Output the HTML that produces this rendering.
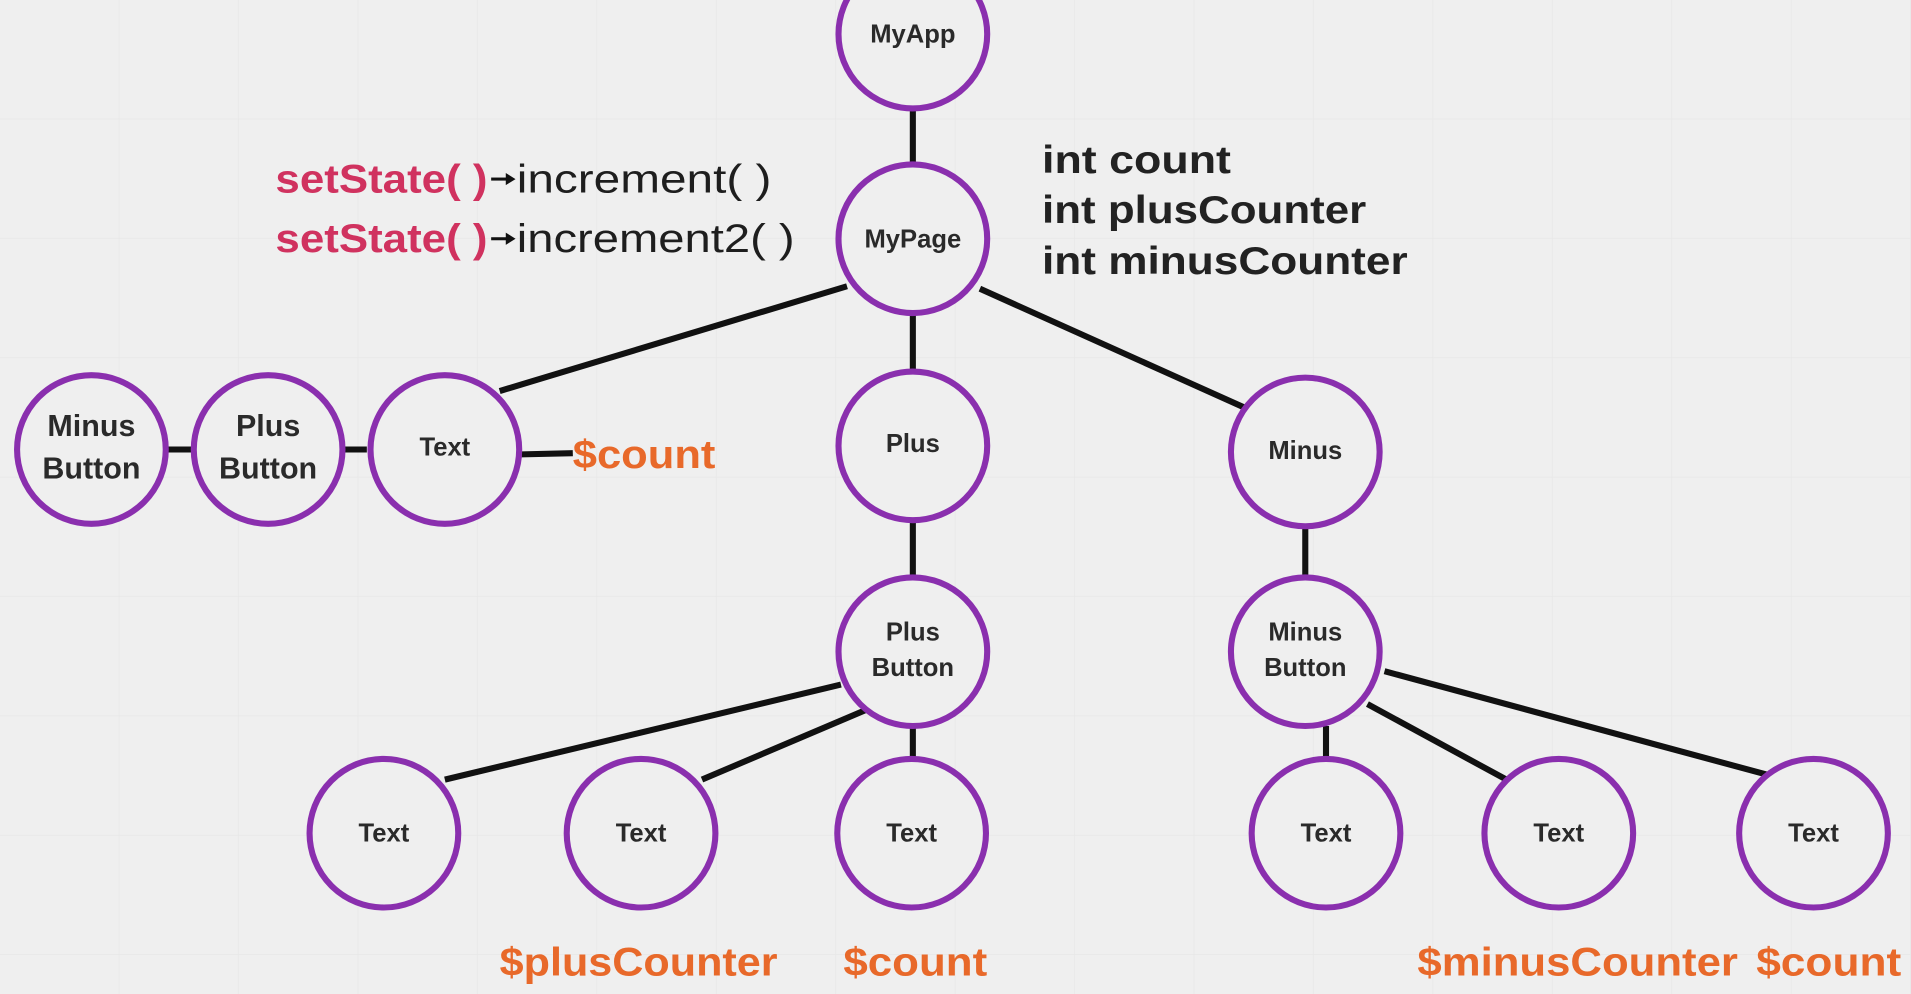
<!DOCTYPE html>
<html><head><meta charset="utf-8"><style>
html,body{margin:0;padding:0;background:#efefef;}
svg{display:block}
text{font-family:"Liberation Sans",sans-serif;}
</style></head><body>
<svg width="1911" height="994" viewBox="0 0 1568 816" preserveAspectRatio="none" xmlns="http://www.w3.org/2000/svg">
<defs><pattern id="g" width="98" height="98" patternUnits="userSpaceOnUse"><path d="M98 0V98M0 98H98" stroke="#e7e7e7" stroke-width="1.2" fill="none"/></pattern></defs>
<rect width="1568" height="816" fill="#efefef"/>
<rect width="1568" height="816" fill="url(#g)"/>
<g stroke="#111" stroke-width="5" fill="none">
<line x1="749" y1="90" x2="749" y2="134"/>
<line x1="695" y1="235" x2="410" y2="321"/>
<line x1="804" y1="237" x2="1022" y2="335"/>
<line x1="749" y1="258" x2="749" y2="305"/>
<line x1="137" y1="369" x2="157" y2="369"/>
<line x1="283" y1="369" x2="301" y2="369"/>
<line x1="428" y1="373" x2="470" y2="372"/>
<line x1="749" y1="428" x2="749" y2="473"/>
<line x1="690" y1="562" x2="365" y2="640"/>
<line x1="710" y1="583" x2="576" y2="640"/>
<line x1="749" y1="597" x2="749" y2="622"/>
<line x1="1071" y1="433" x2="1071" y2="472"/>
<line x1="1088" y1="596" x2="1088" y2="622"/>
<line x1="1122" y1="578" x2="1236" y2="640"/>
<line x1="1136" y1="551" x2="1450" y2="636"/>
</g>
<g stroke="#8a2fae" stroke-width="5" fill="#efefef">
<circle cx="749" cy="28" r="61"/>
<circle cx="749" cy="196" r="61"/>
<circle cx="75" cy="369" r="61"/>
<circle cx="220" cy="369" r="61"/>
<circle cx="365" cy="369" r="61"/>
<circle cx="749" cy="366" r="61"/>
<circle cx="1071" cy="371" r="61"/>
<circle cx="749" cy="535" r="61"/>
<circle cx="1071" cy="535" r="61"/>
<circle cx="315" cy="684" r="61"/>
<circle cx="526" cy="684" r="61"/>
<circle cx="748" cy="684" r="61"/>
<circle cx="1088" cy="684" r="61"/>
<circle cx="1279" cy="684" r="61"/>
<circle cx="1488" cy="684" r="61"/>
</g>
<g fill="#2a2a2a" font-size="21" font-weight="bold" text-anchor="middle">
<text x="749" y="35">MyApp</text>
<text x="749" y="203">MyPage</text>
<text x="365" y="374">Text</text>
<text x="749" y="371">Plus</text>
<text x="1071" y="377">Minus</text>
<text x="749" y="526">Plus</text>
<text x="749" y="555">Button</text>
<text x="1071" y="526">Minus</text>
<text x="1071" y="555">Button</text>
<text x="315" y="691">Text</text>
<text x="526" y="691">Text</text>
<text x="748" y="691">Text</text>
<text x="1088" y="691">Text</text>
<text x="1279" y="691">Text</text>
<text x="1488" y="691">Text</text>
<g font-size="25"><text x="75" y="358">Minus</text><text x="75" y="393">Button</text>
<text x="220" y="358">Plus</text><text x="220" y="393">Button</text></g>
</g>
<g font-size="33" font-weight="bold">
<text x="226" y="158" fill="#d0325f" textLength="174" lengthAdjust="spacingAndGlyphs">setState( )</text>
<text x="226" y="207" fill="#d0325f" textLength="174" lengthAdjust="spacingAndGlyphs">setState( )</text>
<text x="424" y="158" fill="#1e1e1e" font-weight="normal" textLength="209" lengthAdjust="spacingAndGlyphs">increment( )</text>
<text x="424" y="207" fill="#1e1e1e" font-weight="normal" textLength="228" lengthAdjust="spacingAndGlyphs">increment2( )</text>
</g>
<g stroke="#111" stroke-width="2.5"><line x1="403" y1="147" x2="416" y2="147"/><line x1="403" y1="196" x2="416" y2="196"/></g>
<path d="M423 147l-8-5v10z M423 196l-8-5v10z" fill="#111"/>
<g font-size="32" font-weight="bold" fill="#222">
<text x="855" y="142" textLength="155" lengthAdjust="spacingAndGlyphs">int count</text>
<text x="855" y="183" textLength="266" lengthAdjust="spacingAndGlyphs">int plusCounter</text>
<text x="855" y="225" textLength="300" lengthAdjust="spacingAndGlyphs">int minusCounter</text>
</g>
<g font-size="33" font-weight="bold" fill="#e8692a">
<text x="470" y="384" textLength="117" lengthAdjust="spacingAndGlyphs">$count</text>
<text x="410" y="801" textLength="228" lengthAdjust="spacingAndGlyphs">$plusCounter</text>
<text x="692" y="801" textLength="118" lengthAdjust="spacingAndGlyphs">$count</text>
<text x="1163" y="801" textLength="263" lengthAdjust="spacingAndGlyphs">$minusCounter</text>
<text x="1441" y="801" textLength="119" lengthAdjust="spacingAndGlyphs">$count</text>
</g>
</svg>
</body></html>
